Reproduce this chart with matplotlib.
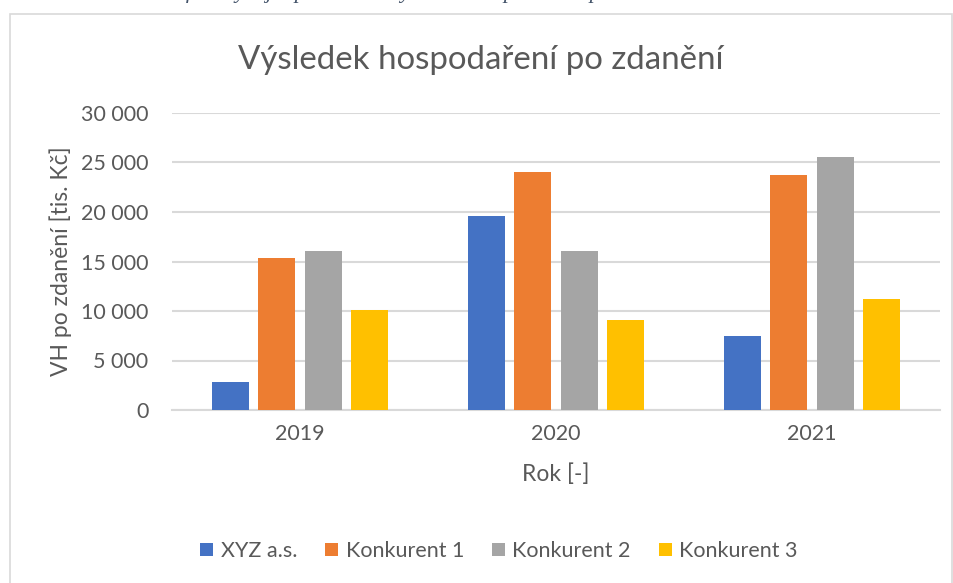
import numpy as np
import matplotlib
matplotlib.use('Agg')
import matplotlib.pyplot as plt
from matplotlib.patches import Rectangle

# Data (tis. Kč)
years = ['2019', '2020', '2021']
series_names = ['XYZ a.s.', 'Konkurent 1', 'Konkurent 2', 'Konkurent 3']
xyz = [2800, 19600, 7500]
konkurent1 = [15400, 24000, 23700]
konkurent2 = [16100, 16100, 25600]
konkurent3 = [10100, 9100, 11200]
yticks = [0, 5000, 10000, 15000, 20000, 25000, 30000]
ytick_labels = ['0', '5 000', '10 000', '15 000', '20 000', '25 000', '30 000']

colors = ['#4472C4', '#ED7D31', '#A5A5A5', '#FFC000']
text_color = '#595959'
grid_color = '#d9d9d9'
font = 'Lato'

W, H = 954, 583
fig = plt.figure(figsize=(W / 100, H / 100), dpi=100, facecolor='white')

# chart border (bottom edge runs off the image)
fig.patches.append(Rectangle((10 / W, -0.05), 942 / W, 1.05 - 14 / H,
                             transform=fig.transFigure, fill=False,
                             edgecolor=grid_color, linewidth=1.2))

# caption above the chart, mostly cropped off by the image edge
fig.text(0.5, 1 + 2 / H, 'Graf 5: Vývoj a porovnání výsledku hospodaření po zdanění s konkurencí',
         ha='center', va='baseline', fontsize=16, style='italic',
         family='Liberation Serif', color='#44546A')

ax = fig.add_axes([172 / W, 1 - 410 / H, 768 / W, 297 / H])

x = np.arange(len(years))
bar_w = 0.144
step = 0.182
all_series = [xyz, konkurent1, konkurent2, konkurent3]
for i, (vals, name, c) in enumerate(zip(all_series, series_names, colors)):
    ax.bar(x + (i - 1.5) * step, vals, width=bar_w, color=c, label=name, zorder=3)

ax.set_xlim(-0.5, 2.5)
ax.set_ylim(0, 30000)
ax.set_yticks(yticks)
ax.set_yticklabels(ytick_labels)
ax.set_xticks(x)
ax.set_xticklabels(years)
ax.yaxis.grid(True, color=grid_color, linewidth=1.5, zorder=0)
ax.set_axisbelow(True)
for s in ['top', 'right', 'left']:
    ax.spines[s].set_visible(False)
ax.spines['bottom'].set_color(grid_color)
ax.spines['bottom'].set_linewidth(1.5)
ax.tick_params(axis='both', length=0, labelsize=15.5, labelcolor=text_color)
ax.tick_params(axis='y', pad=17)
ax.tick_params(axis='x', pad=10)
for lab in ax.get_xticklabels() + ax.get_yticklabels():
    lab.set_family(font)

ax.set_xlabel('Rok [-]', fontsize=16.5, color=text_color, family=font, labelpad=14)
ax.set_ylabel('VH po zdanění [tis. Kč]', fontsize=16.5, color=text_color, family=font)
ax.yaxis.set_label_coords((72 - 172) / 768, 0.5)

fig.text(481 / W, 1 - 60 / H, 'Výsledek hospodaření po zdanění', ha='center', va='center',
         fontsize=23.8, color=text_color, family=font)

leg = fig.legend(loc='center', bbox_to_anchor=(499 / W, 1 - 551 / H), ncol=4, frameon=False,
                 prop={'family': font, 'size': 15.5}, handlelength=0.6, handleheight=0.6,
                 handletextpad=0.35, columnspacing=1.3, labelcolor=text_color)

fig.savefig('out.png', dpi=100, facecolor='white')
